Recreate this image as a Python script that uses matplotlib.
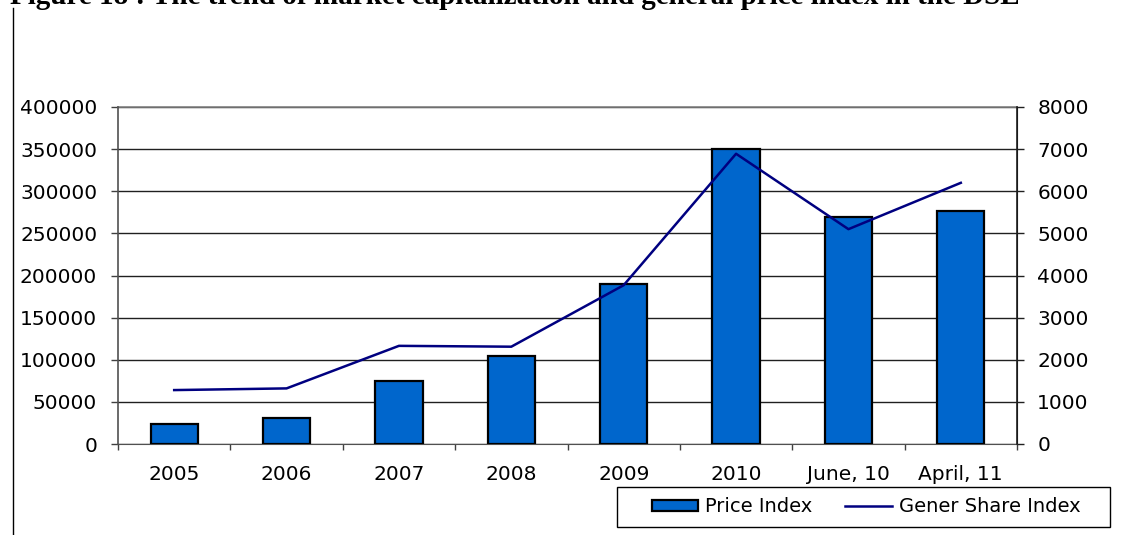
import numpy as np
import matplotlib
matplotlib.use("Agg")
import matplotlib.pyplot as plt
from matplotlib.lines import Line2D
from matplotlib.patches import Patch, Rectangle

periods = ["2005", "2006", "2007", "2008", "2009", "2010", "June, 10", "April, 11"]
price_index = [23500, 31000, 75000, 104500, 190000, 350000, 270000, 276500]
gener_share_index = [1280, 1320, 2330, 2310, 3770, 6890, 5100, 6200]

plt.rcParams["font.family"] = ["DejaVu Sans"]

W, H = 1126, 535
fig = plt.figure(figsize=(W / 100, H / 100), dpi=100)
ax = fig.add_axes([118 / W, 1 - 444 / H, 899 / W, 337 / H])
ax2 = ax.twinx()

x = np.arange(len(periods))
ax.bar(x, price_index, width=0.42, color="#0066CC", edgecolor="black", linewidth=1.6, zorder=3)
ax2.plot(x, gener_share_index, color="#000080", linewidth=1.8, zorder=4)

ax.set_xlim(-0.5, len(periods) - 0.5)
ax.set_ylim(0, 400000)
ax2.set_ylim(0, 8000)
ax.set_yticks(np.arange(0, 400001, 50000))
ax2.set_yticks(np.arange(0, 8001, 1000))

ax.set_xticks(x)
ax.set_xticklabels(periods)
ax.set_xticks(np.arange(-0.5, len(periods), 1.0), minor=True)
ax.tick_params(axis="x", which="major", length=0, pad=15, labelsize=14.5)
ax.tick_params(axis="x", which="minor", length=4.5, width=1, color="#404040")
ax.tick_params(axis="y", length=5, width=1, color="#404040", pad=10, labelsize=14.5)
ax2.tick_params(axis="y", length=5, width=1, color="#202020", pad=9.5, labelsize=14.5)

ax.yaxis.grid(True, color="#202020", linewidth=1, zorder=0)
ax.set_axisbelow(True)

for a in (ax, ax2):
    a.spines["top"].set_visible(False)
ax.spines["left"].set_color("#505050")
ax.spines["bottom"].set_color("#505050")
ax2.spines["right"].set_color("#202020")
ax2.spines["left"].set_visible(False)
ax2.spines["bottom"].set_visible(False)
ax.spines["left"].set_linewidth(1.2)
ax2.spines["right"].set_linewidth(1.2)
ax.plot([-0.5, 7.5], [400000, 400000], color="#808080", linewidth=1.2, clip_on=False, zorder=2)

# legend box
fig.add_artist(Rectangle((617 / W, 1 - 527 / H), 493 / W, 40 / H, transform=fig.transFigure,
                         facecolor="white", edgecolor="black", linewidth=1))
handles = [
    Patch(facecolor="#0066CC", edgecolor="black", linewidth=1.6),
    Line2D([0], [0], color="#000080", linewidth=1.8),
]
fig.legend(handles, ["Price Index", "Gener Share Index"], loc="center",
           bbox_to_anchor=(866 / W, 1 - 507 / H), ncol=2, frameon=False,
           fontsize=14, handlelength=2.4, handleheight=0.5,
           handletextpad=0.35, columnspacing=1.7, borderaxespad=0, borderpad=0)

# page border and the clipped caption above the chart
fig.add_artist(Line2D([13 / W, 13 / W], [0, 1 - 8 / H], color="black", linewidth=1))
fig.text(10 / W, 1 - 4 / H, "Figure 18 : The trend of market capitalization and general price index in the DSE",
         family="Liberation Serif", weight="bold", fontsize=21, va="baseline", ha="left")

fig.savefig("out.png", dpi=100)
